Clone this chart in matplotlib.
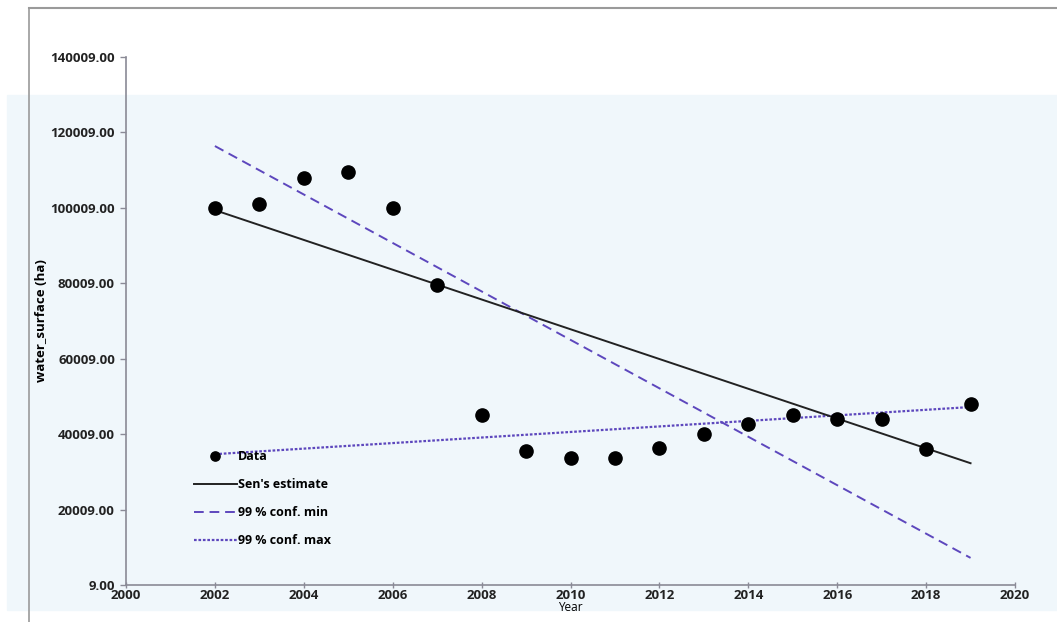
import matplotlib
matplotlib.use('Agg')
import matplotlib.pyplot as plt
from matplotlib.patches import Rectangle
from matplotlib.lines import Line2D

plt.rcParams['font.family'] = ['Open Sans', 'DejaVu Sans']

# Observed water surface (ha)
years = [2002, 2003, 2004, 2005, 2006, 2007, 2008, 2009, 2010,
         2011, 2012, 2013, 2014, 2015, 2016, 2017, 2018, 2019]
water_surface = [100000, 101000, 107800, 109400, 99900, 79500, 45000, 35500, 33600,
                 33700, 36300, 40000, 42700, 45000, 44000, 44000, 36000, 48000]

# Trend lines (endpoints at 2002 and 2019)
trend_years = [2002, 2019]
sen_estimate = [99400, 32300]
conf_min = [116400, 7200]
conf_max = [34700, 47200]

yticks = [9, 20009, 40009, 60009, 80009, 100009, 120009, 140009]
xticks = list(range(2000, 2021, 2))

W, H = 1057, 622
fig = plt.figure(figsize=(W / 100, H / 100), dpi=100)

# scanned page background band + frame lines
fig.patches.append(Rectangle((7 / W, 1 - 610 / H), 1 - 7 / W, (610 - 95) / H,
                             transform=fig.transFigure, color='#f0f7fb', zorder=-5))
fig.add_artist(Line2D([29 / W, 29 / W], [0, 1 - 8 / H], transform=fig.transFigure,
                      color='#9a9a9a', lw=1.2, zorder=-4))
fig.add_artist(Line2D([29 / W, 1], [1 - 8 / H, 1 - 8 / H], transform=fig.transFigure,
                      color='#9a9a9a', lw=1.5, zorder=-4))

ax = fig.add_axes([126 / W, 1 - 585 / H, (1015 - 126) / W, (585 - 57) / H])
ax.set_zorder(2)
ax.patch.set_alpha(0)

purple = '#5d47bd'
ax.plot(trend_years, conf_max, color=purple, ls=(0, (1.2, 0.8)), lw=1.6,
        label='99 % conf. max', zorder=2)
ax.plot(trend_years, conf_min, color=purple, ls=(0, (5, 3)), lw=1.4,
        label='99 % conf. min', zorder=2)
ax.plot(trend_years, sen_estimate, color='#222222', lw=1.4,
        label="Sen's estimate", zorder=3)
ax.plot(years, water_surface, 'o', color='black', ms=9.5, label='Data', zorder=4)

ax.set_xlim(2000, 2020)
ax.set_ylim(9, 140009)
ax.set_xticks(xticks)
ax.set_yticks(yticks)
ax.set_yticklabels(['%.2f' % v for v in yticks])

for side in ['top', 'right']:
    ax.spines[side].set_visible(False)
for side in ['left', 'bottom']:
    ax.spines[side].set_color('#8a8a96')
    ax.spines[side].set_linewidth(1.2)
ax.tick_params(colors='#8a8a96', length=4, width=1)
ax.tick_params(axis='x', direction='inout', labelcolor='#222222', labelsize=9.5, pad=1)
ax.tick_params(axis='y', labelcolor='#222222', labelsize=9.5, pad=4)
for lab in ax.get_xticklabels() + ax.get_yticklabels():
    lab.set_fontweight('bold')

ax.set_ylabel('water_surface (ha)', fontsize=9.5, fontweight='bold')
ax.yaxis.set_label_coords(-0.088, 0.5)
ax.set_xlabel('Year', fontsize=8.5, labelpad=-1)

handles, labels = ax.get_legend_handles_labels()
order = [3, 2, 1, 0]
leg = ax.legend([handles[i] for i in order], [labels[i] for i in order],
                loc='lower left', bbox_to_anchor=(0.064, 0.05), frameon=False,
                prop={'size': 9, 'weight': 'bold'}, handlelength=3.4,
                handletextpad=0.1, labelspacing=1.2, markerscale=0.7)

fig.savefig('out.png', dpi=100)
plt.close(fig)
